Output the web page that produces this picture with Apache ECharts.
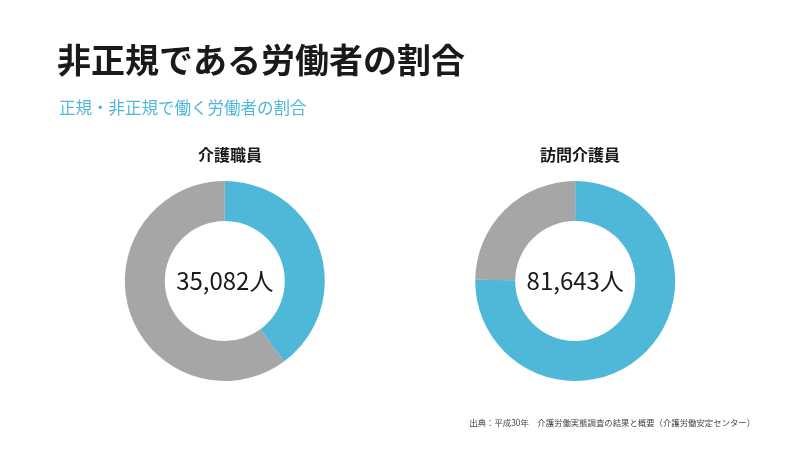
<!DOCTYPE html>
<html><head><meta charset="utf-8">
<script src="https://cdn.jsdelivr.net/npm/echarts@6/dist/echarts.min.js"></script>
<style>html,body{margin:0;padding:0;background:#fff}#c{width:800px;height:450px}</style>
</head><body><div id="c"></div>
<script>
const chartTitles = ['介護職員', '訪問介護員'];
const totals = ['35,082人', '81,643人'];
const nonRegular = [39.9, 75.2];
const regular = [60.1, 24.8];
const categories = ['非正規', '正規'];

const F = '"Noto Sans CJK JP", "Noto Sans", sans-serif';
const centersX = ['28.1%', '71.9%'];
const chart = echarts.init(document.getElementById('c'));
const series = chartTitles.map((t, i) => ({
  type: 'pie', radius: [60, 100], center: [centersX[i], 281],
  startAngle: 90, clockwise: true, silent: true, animation: false,
  label: { show: true, position: 'center', formatter: totals[i], fontFamily: F, fontSize: 24, color: '#1a1a1a' },
  labelLine: { show: false },
  data: [
    { name: categories[0], value: nonRegular[i], itemStyle: { color: '#4fb8d8' } },
    { name: categories[1], value: regular[i], itemStyle: { color: '#a6a6a6' } }
  ]
}));
chart.setOption({
  backgroundColor: '#fff',
  title: [
    { text: '非正規である労働者の割合', left: 52, top: 38, textStyle: { fontFamily: F, fontSize: 34, fontWeight: 'bold', color: '#1a1a1a' } },
    { text: '正規・非正規で働く労働者の割合', left: 54, top: 94, textStyle: { fontFamily: F, fontSize: 16.5, fontWeight: 'normal', color: '#4fb8d8' } },
    { text: chartTitles[0], left: 225, top: 142, textAlign: 'center', textStyle: { fontFamily: F, fontSize: 16, fontWeight: 'bold', color: '#1a1a1a' } },
    { text: chartTitles[1], left: 575, top: 142, textAlign: 'center', textStyle: { fontFamily: F, fontSize: 16, fontWeight: 'bold', color: '#1a1a1a' } },
    { text: '出典：平成30年　介護労働実態調査の結果と概要（介護労働安定センター）', right: 40, top: 414, textStyle: { fontFamily: F, fontSize: 8.4, fontWeight: 'normal', color: '#444' } }
  ],
  series
});
</script></body></html>
